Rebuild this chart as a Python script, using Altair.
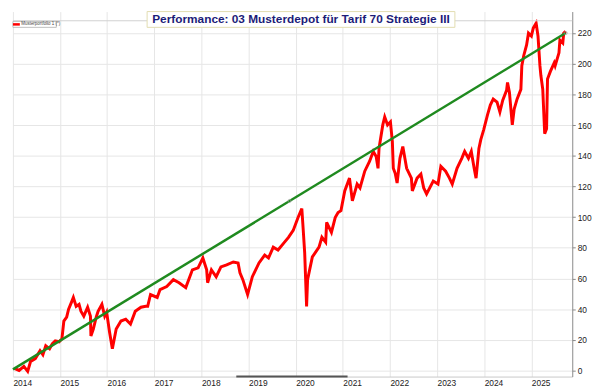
import altair as alt
import pandas as pd
import numpy as np

# Portfolio performance in % (decimal years)
t = [2014.030, 2014.131, 2014.232, 2014.313, 2014.374, 2014.475, 2014.576, 2014.636, 2014.697, 2014.778,
     2014.838, 2014.899, 2014.980, 2015.040, 2015.081, 2015.141, 2015.182, 2015.242, 2015.283, 2015.343,
     2015.404, 2015.444, 2015.505, 2015.586, 2015.646, 2015.656, 2015.707, 2015.768, 2015.808, 2015.889,
     2015.949, 2015.990, 2016.051, 2016.111, 2016.152, 2016.192, 2016.293, 2016.394, 2016.495, 2016.596,
     2016.717, 2016.818, 2016.859, 2016.919, 2017.061, 2017.121, 2017.263, 2017.404, 2017.525, 2017.667,
     2017.808, 2017.929, 2018.030, 2018.111, 2018.131, 2018.212, 2018.313, 2018.414, 2018.535, 2018.677,
     2018.778, 2018.818, 2018.879, 2018.980, 2019.081, 2019.222, 2019.343, 2019.424, 2019.525, 2019.626,
     2019.747, 2019.848, 2019.949, 2020.051, 2020.131, 2020.152, 2020.192, 2020.232, 2020.253, 2020.354,
     2020.495, 2020.556, 2020.636, 2020.657, 2020.758, 2020.838, 2020.899, 2020.960, 2021.040, 2021.141,
     2021.202, 2021.303, 2021.364, 2021.465, 2021.566, 2021.646, 2021.707, 2021.747, 2021.768, 2021.848,
     2021.889, 2021.949, 2022.010, 2022.051, 2022.071, 2022.111, 2022.152, 2022.212, 2022.273, 2022.354,
     2022.455, 2022.475, 2022.576, 2022.657, 2022.717, 2022.778, 2022.919, 2023.020, 2023.081, 2023.182,
     2023.263, 2023.323, 2023.424, 2023.525, 2023.586, 2023.667, 2023.727, 2023.788, 2023.828, 2023.889,
     2023.929, 2023.990, 2024.071, 2024.131, 2024.192, 2024.273, 2024.333, 2024.394, 2024.475, 2024.495,
     2024.535, 2024.596, 2024.636, 2024.697, 2024.778, 2024.798, 2024.838, 2024.899, 2024.939, 2025.000,
     2025.040, 2025.101, 2025.141, 2025.182, 2025.202, 2025.242, 2025.263, 2025.283, 2025.323, 2025.343,
     2025.404, 2025.485, 2025.505, 2025.586, 2025.606, 2025.667, 2025.687, 2025.727]
perf = [1.3, 0.0, 2.6, -0.6, 5.8, 7.7, 12.9, 10.3, 16.1, 14.1,
        17.4, 19.3, 18.7, 20.6, 32.2, 34.7, 39.9, 44.4, 47.6, 41.8,
        43.1, 38.6, 35.4, 41.2, 35.4, 22.5, 27.0, 34.7, 38.6, 43.1,
        35.4, 38.0, 25.1, 14.1, 20.6, 27.0, 32.2, 33.4, 30.2, 38.6,
        41.2, 41.8, 41.8, 49.5, 47.6, 52.7, 54.7, 59.2, 57.2, 54.0,
        65.6, 66.9, 73.3, 65.6, 57.2, 65.6, 61.1, 67.5, 68.8, 70.7,
        70.1, 63.7, 59.2, 49.5, 61.1, 70.1, 75.2, 73.3, 80.4, 78.5,
        83.0, 86.8, 91.3, 99.7, 105.5, 95.8, 76.5, 41.8, 59.2, 74.0,
        80.4, 86.8, 83.6, 96.5, 90.0, 99.7, 102.9, 104.2, 117.0, 125.4,
        110.6, 121.5, 119.0, 129.9, 136.3, 142.8, 139.5, 131.8, 144.7, 160.1,
        165.3, 160.1, 162.1, 149.2, 131.8, 128.6, 122.2, 138.3, 146.0, 131.8,
        125.4, 117.0, 125.4, 128.0, 119.0, 115.1, 123.5, 121.5, 133.1, 129.9,
        125.4, 121.5, 131.8, 138.3, 142.8, 138.3, 142.8, 131.8, 125.4, 144.7,
        150.5, 156.9, 166.6, 173.0, 176.9, 174.9, 168.5, 176.2, 182.6, 187.8,
        181.4, 160.1, 170.4, 176.9, 183.3, 198.7, 205.2, 212.2, 219.9, 218.0,
        223.2, 226.4, 218.0, 198.7, 192.3, 183.3, 168.5, 154.4, 157.6, 190.0,
        195.0, 200.6, 198.7, 207.1, 215.4, 213.5, 219.9, 221.2]

trend_t = [2014.0, 2025.727]
trend_v = [0.7, 220.0]
handle_t = [2019.87, 2025.727]
handle_v = [110.5, 220.0]

y_ticks = list(range(0, 221, 20))
years = list(range(2014, 2026))
title_text = "Performance: 03 Musterdepot für Tarif 70 Strategie III"
legend_text = "Musterportfolio 1 (*)"


def to_date(v):
    yr = int(np.floor(v))
    frac = v - yr
    a = pd.Timestamp(year=yr, month=1, day=1)
    b = pd.Timestamp(year=yr + 1, month=1, day=1)
    return (a + (b - a) * frac).strftime("%Y-%m-%dT%H:%M:%S")


df = pd.DataFrame({"date": [to_date(v) for v in t], "perf": perf})
trend = pd.DataFrame({"date": [to_date(v) for v in trend_t], "perf": trend_v})
handles = pd.DataFrame({"date": [to_date(v) for v in handle_t], "perf": handle_v})
seg = pd.DataFrame({"date": [to_date(2018.74)], "e": [to_date(2021.10)], "perf": [-4]})
border = pd.DataFrame({"perf": [228]})
one = pd.DataFrame({"a": [0]})

FONT = "Liberation Sans"
xscale = alt.Scale(domain=[alt.DateTime(year=2014, month=1, date=1),
                           alt.DateTime(year=2025, month=11, date=14)])
yscale = alt.Scale(domain=[-4, 234], nice=False, zero=False)

xaxis = alt.Axis(values=[alt.DateTime(year=y, month=1, date=1) for y in years],
                 format="%Y", labelAlign="left", labelPadding=2, tickSize=0,
                 grid=True, gridColor="#e6e6e6", domainColor="#c8c8c8",
                 labelFont=FONT, labelFontSize=8.5, labelColor="#222",
                 labelOverlap=False, labelFlush=False, title=None)
yaxis = alt.Axis(orient="right", values=y_ticks, tickSize=3, labelPadding=2,
                 grid=True, gridColor="#e6e6e6", domainColor="#888", tickColor="#888",
                 labelOverlap=False, labelFlush=False,
                 labelFont=FONT, labelFontSize=8.5, labelColor="#222", title=None)

X = alt.X("date:T", scale=xscale, axis=xaxis)
Y = alt.Y("perf:Q", scale=yscale, axis=yaxis)

red = alt.Chart(df).mark_line(color="#ff0000", strokeWidth=3, clip=True).encode(x=X, y=Y)
green = alt.Chart(trend).mark_line(color="#1f8a1f", strokeWidth=2.5).encode(x=X, y=Y)
hdl = alt.Chart(handles).mark_point(shape="circle", size=10, color="#999", filled=False,
                                    strokeWidth=1).encode(x=X, y=Y)
bottom_seg = alt.Chart(seg).mark_rule(color="#555", strokeWidth=2).encode(
    x=X, x2="e:T", y=Y)
top_border = alt.Chart(border).mark_rule(color="#d0d0d0", strokeWidth=1).encode(y=Y)

title_box = alt.Chart(one).mark_rect(fill="white", stroke="#e2dcb0", strokeWidth=1).encode(
    x=alt.value(136), x2=alt.value(448), y=alt.value(0), y2=alt.value(16))
title_txt = alt.Chart(one).mark_text(text=title_text, font=FONT, fontSize=12,
                                     fontWeight="bold", color="#1c1c78",
                                     align="center", baseline="middle").encode(
    x=alt.value(292), y=alt.value(8))
leg_box = alt.Chart(one).mark_rect(fill="white", stroke="#b0b0b0", strokeWidth=0.8).encode(
    x=alt.value(0), x2=alt.value(44), y=alt.value(10), y2=alt.value(16))
leg_sw = alt.Chart(one).mark_rule(color="#ff0000", strokeWidth=2.5).encode(
    x=alt.value(0), x2=alt.value(7), y=alt.value(13))
leg_txt = alt.Chart(one).mark_text(text=legend_text, font=FONT, fontSize=4.5, color="#444",
                                   align="left", baseline="middle").encode(
    x=alt.value(8.5), y=alt.value(13))

chart = alt.layer(red, green, hdl, bottom_seg, top_border, title_box, title_txt,
                  leg_box, leg_sw, leg_txt).properties(
    width=592, height=382, padding=0,
    autosize=alt.AutoSizeParams(type="fit", contains="padding"),
    background="white",
).configure_view(stroke=None).configure_axis(labelOverlap=False)

chart.save("out.html", embed_options={"renderer": "svg", "actions": False})
